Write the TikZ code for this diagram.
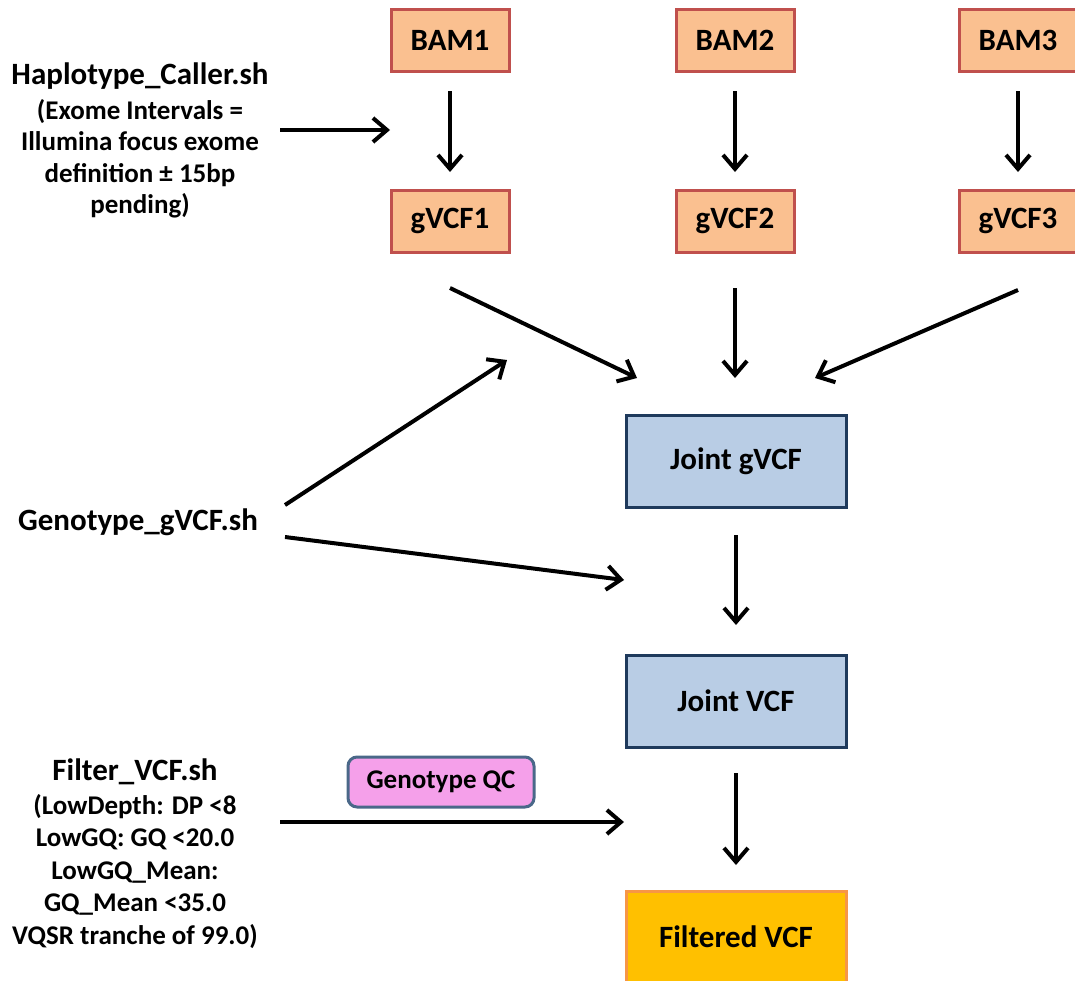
\documentclass[tikz,border=0pt]{standalone}
\usepackage{fontspec}
\setmainfont{Carlito}
\usetikzlibrary{arrows.meta}
\definecolor{inFill}{HTML}{FAC090}
\definecolor{inLine}{HTML}{C0504D}
\definecolor{jFill}{HTML}{B9CDE5}
\definecolor{jLine}{HTML}{1F3A5C}
\definecolor{fFill}{HTML}{FFC000}
\definecolor{fLine}{HTML}{F79646}
\definecolor{qcFill}{HTML}{F5A0EA}
\definecolor{qcLine}{HTML}{4A6889}
\tikzset{
  sample/.style={draw=inLine, fill=inFill, line width=3pt, minimum width=118pt, minimum height=62pt,
    font=\fontsize{31}{36}\selectfont\bfseries, inner sep=0pt},
  joint/.style={draw=jLine, fill=jFill, line width=3pt, minimum width=220pt, minimum height=92pt,
    font=\fontsize{31}{36}\selectfont\bfseries, inner sep=0pt},
  final/.style={draw=fLine, fill=fFill, line width=3pt, minimum width=220pt, minimum height=92pt,
    font=\fontsize{31}{36}\selectfont\bfseries, inner sep=0pt},
  qc/.style={draw=qcLine, fill=qcFill, line width=3pt, rounded corners=9pt, minimum width=186pt,
    minimum height=50pt, font=\fontsize{27}{32}\selectfont\bfseries, inner sep=0pt},
  script/.style={align=center, font=\fontsize{27}{32}\selectfont\bfseries, inner sep=0pt},
  title/.style={font=\fontsize{31}{36}\selectfont\bfseries, inner sep=0pt},
  flow/.style={line width=4pt, -{Straight Barb[length=14pt,width=24pt,line width=4pt]}},
}
\begin{document}
\begin{tikzpicture}[x=1pt,y=-1pt]
\useasboundingbox (0,0) rectangle (1075,980);
\clip (0,0) rectangle (1075,980);

% samples
\node[sample] (bam1) at (450,40) {BAM1};
\node[sample] (bam2) at (735,40) {BAM2};
\node[sample] (bam3) at (1018,40) {BAM3};
\node[sample] (g1) at (450,221) {gVCF1};
\node[sample] (g2) at (735,221) {gVCF2};
\node[sample] (g3) at (1018,221) {gVCF3};

% joint stages
\node[joint] (jg) at (736,461) {Joint gVCF};
\node[joint] (jv) at (736,701) {Joint VCF};
\node[final] (fv) at (736,937) {Filtered VCF};
\node[qc] (gqc) at (441,782) {Genotype QC};

% scripts
\node[title] (hc) at (140,76) {Haplotype\_Caller.sh};
\node[script, font=\fontsize{27}{31.5}\selectfont\bfseries, anchor=north] (hcnote) at (140,99) {(Exome Intervals =\\Illumina focus exome\\definition ± 15bp\\pending)};
\node[title] (gt) at (138,522) {Genotype\_gVCF.sh};
\node[title] (fl) at (135,772) {Filter\_VCF.sh};
\node[script, font=\fontsize{27}{32.5}\selectfont\bfseries, anchor=north] (flnote) at (135,794) {(LowDepth: DP <8\\LowGQ: GQ <20.0\\LowGQ\_Mean:\\GQ\_Mean <35.0\\VQSR tranche of 99.0)};

% arrow end points
\coordinate (hcA) at (280,130);  \coordinate (hcB) at (390,130);
\coordinate (gtA) at (285,505);  \coordinate (gtB) at (507,360);
\coordinate (gtC) at (285,537);  \coordinate (gtD) at (624,580);
\coordinate (flA) at (280,822);  \coordinate (flB) at (624,822);
\coordinate (m1) at (637,378);   \coordinate (m2) at (735,378);  \coordinate (m3) at (815,378);

% connectors
\draw[flow] (450,91) -- (450,172);
\draw[flow] (735,91) -- (735,172);
\draw[flow] (1018,91) -- (1018,172);
\draw[flow] (450,288) -- (m1);
\draw[flow] (735,288) -- (m2);
\draw[flow] (1018,290) -- (m3);
\draw[flow] (736,535) -- (736,625);
\draw[flow] (736,773) -- (736,865);
\draw[flow] (hcA) -- (hcB);
\draw[flow] (gtA) -- (gtB);
\draw[flow] (gtC) -- (gtD);
\draw[flow] (flA) -- (flB);
\end{tikzpicture}
\end{document}
